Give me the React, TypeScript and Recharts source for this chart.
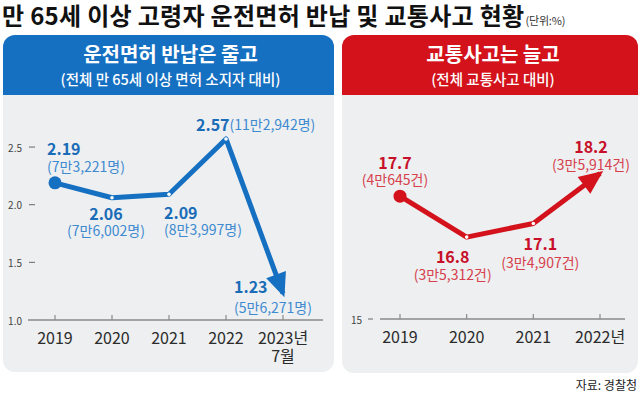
import React from 'react';
import { LineChart, Line, XAxis, YAxis } from 'recharts';

// ---- data ----
const returnYears = ['2019', '2020', '2021', '2022', '2023년\n7월'];
const returnRates = [2.19, 2.06, 2.09, 2.57, 1.23];
const returnCounts = ['7만3,221명', '7만6,002명', '8만3,997명', '11만2,942명', '5만6,271명'];
const returnTicks = [1.0, 1.5, 2.0, 2.5];

const accidentYears = ['2019', '2020', '2021', '2022년'];
const accidentShares = [17.7, 16.8, 17.1, 18.2];
const accidentCounts = ['4만645건', '3만5,312건', '3만4,907건', '3만5,914건'];
const accidentTicks = [15];

const title = '만 65세 이상 고령자 운전면허 반납 및 교통사고 현황';
const unit = '(단위:%)';
const leftHead = '운전면허 반납은 줄고';
const leftSub = '(전체 만 65세 이상 면허 소지자 대비)';
const rightHead = '교통사고는 늘고';
const rightSub = '(전체 교통사고 대비)';
const source = '자료: 경찰청';

const returnData = returnYears.map((y, i) => ({ year: y, value: returnRates[i], count: returnCounts[i] }));
const accidentData = accidentYears.map((y, i) => ({ year: y, value: accidentShares[i], count: accidentCounts[i] }));

// ---- styles / placement ----
const FONT = '"Noto Sans CJK KR", "Noto Sans", sans-serif';
const BLUE = '#1670c2';
const BLUE_DARK = '#1a6cb8';
const BLUE_LIGHT = '#3d8ad0';
const RED = '#d3121c';
const RED_DARK = '#c8102a';
const RED_LIGHT = '#d6404c';
const PANEL = '#edeff0';

type Place = { dx: number; vdy: number; sdy: number; anchor: 'start' | 'middle' | 'end'; inline?: boolean };
const returnPlace: Place[] = [
  { dx: -8, vdy: -35, sdy: -17, anchor: 'start' },
  { dx: -6, vdy: 15, sdy: 32, anchor: 'middle' },
  { dx: -5, vdy: 18, sdy: 35, anchor: 'start' },
  { dx: -30, vdy: -15, sdy: -15, anchor: 'start', inline: true },
  { dx: -49, vdy: -7, sdy: 14, anchor: 'start' },
];
const accidentPlace: Place[] = [
  { dx: -5, vdy: -34, sdy: -17, anchor: 'middle' },
  { dx: -14, vdy: 19, sdy: 37, anchor: 'middle' },
  { dx: 7, vdy: 20, sdy: 39, anchor: 'middle' },
  { dx: -9, vdy: -27, sdy: -9, anchor: 'middle' },
];

function makeDot(color: string, n: number) {
  const store: { cx: number; cy: number }[] = [];
  return (props: any) => {
    const { cx, cy, index } = props;
    store[index] = { cx, cy };
    if (index === 0) {
      return <circle key={`d${index}`} cx={cx} cy={cy} r={6.5} fill={color} />;
    }
    if (index === n - 1 && store[index - 1]) {
      const p = store[index - 1];
      const vx = cx - p.cx;
      const vy = cy - p.cy;
      const len = Math.sqrt(vx * vx + vy * vy) || 1;
      const ux = vx / len;
      const uy = vy / len;
      const tipX = cx + ux * 4;
      const tipY = cy + uy * 4;
      const bx = tipX - ux * 24;
      const by = tipY - uy * 24;
      const hw = 10.5;
      const pts = `${tipX},${tipY} ${bx - uy * hw},${by + ux * hw} ${bx + uy * hw},${by - ux * hw}`;
      return <polygon key={`d${index}`} points={pts} fill={color} />;
    }
    return <circle key={`d${index}`} cx={cx} cy={cy} r={1.8} fill="#ffffff" />;
  };
}

function makeLabel(place: Place[], data: { count: string }[], dark: string, light: string) {
  return (props: any) => {
    const { x, y, index, value } = props;
    const p = place[index];
    const cx = x + p.dx;
    if (p.inline) {
      return (
        <text key={`l${index}`} x={cx} y={y + p.vdy} textAnchor={p.anchor} dominantBaseline="central" fontFamily={FONT}>
          <tspan fontSize={16} fontWeight={700} fill={dark}>{value.toFixed(2)}</tspan>
          <tspan fontSize={14} fill={light}>({data[index].count})</tspan>
        </text>
      );
    }
    const digits = String(value).split('.')[1]?.length ?? 0;
    return (
      <g key={`l${index}`}>
        <text x={cx} y={y + p.vdy} textAnchor={p.anchor} dominantBaseline="central" fontFamily={FONT} fontSize={16} fontWeight={700} fill={dark}>
          {value.toFixed(digits)}
        </text>
        <text x={cx} y={y + p.sdy} textAnchor={p.anchor} dominantBaseline="central" fontFamily={FONT} fontSize={14} fill={light}>
          ({data[index].count})
        </text>
      </g>
    );
  };
}

const XTick = (props: any) => {
  const { x, y, payload } = props;
  const lines = String(payload.value).split('\n');
  return (
    <g>
      <line x1={x} x2={x} y1={y} y2={y - 5} stroke="#8a8a8a" strokeWidth={1.2} />
      {lines.map((l, i) => (
        <text key={i} x={x} y={y + 17 + i * 18} textAnchor="middle" dominantBaseline="central" fontFamily={FONT} fontSize={16} fill="#2b2b2b">
          {l}
        </text>
      ))}
    </g>
  );
};

function makeYTick(textOff: number, dashFrom: number, dashTo: number, digits: number, dashFirst: boolean) {
  return (props: any) => {
    const { x, y, payload, index } = props;
    const showDash = dashFirst || index !== 0;
    return (
      <g>
        <text x={x + textOff} y={y} textAnchor="end" dominantBaseline="central" fontFamily={FONT} fontSize={10} fill="#444">
          {Number(payload.value).toFixed(digits)}
        </text>
        {showDash && <line x1={x + dashFrom} x2={x + dashTo} y1={y} y2={y} stroke="#666" strokeWidth={1} />}
      </g>
    );
  };
}

export default function App() {
  return (
    <div style={{ position: 'absolute', left: 0, top: 0, width: 640, height: 394, background: '#ffffff', fontFamily: FONT, overflow: 'hidden' }}>
      {/* title */}
      <div style={{ position: 'absolute', left: 2, top: 0, whiteSpace: 'nowrap', color: '#111', lineHeight: '30px', height: 30 }}>
        <span style={{ fontSize: 24, fontWeight: 700, letterSpacing: 0.3 }}>{title}</span>
        <span style={{ fontSize: 11, color: '#333', marginLeft: 1, letterSpacing: -0.2 }}>{unit}</span>
      </div>

      {/* left panel */}
      <div style={{ position: 'absolute', left: 3, top: 35, width: 331, height: 337, background: PANEL, borderRadius: 12, overflow: 'hidden' }}>
        <div style={{ height: 60, background: BLUE, color: '#fff', textAlign: 'center' }}>
          <div style={{ fontSize: 20, fontWeight: 700, lineHeight: '24px', paddingTop: 7, paddingLeft: 4 }}>{leftHead}</div>
          <div style={{ fontSize: 14.5, fontWeight: 500, lineHeight: '18px', paddingTop: 4, paddingLeft: 4 }}>{leftSub}</div>
        </div>
      </div>

      {/* right panel */}
      <div style={{ position: 'absolute', left: 342, top: 35, width: 296, height: 338, background: PANEL, borderRadius: 12, overflow: 'hidden' }}>
        <div style={{ height: 60, background: RED, color: '#fff', textAlign: 'center' }}>
          <div style={{ fontSize: 20, fontWeight: 700, lineHeight: '24px', paddingTop: 7, paddingLeft: 6 }}>{rightHead}</div>
          <div style={{ fontSize: 14.5, fontWeight: 500, lineHeight: '18px', paddingTop: 4, paddingLeft: 6 }}>{rightSub}</div>
        </div>
      </div>

      {/* source */}
      <div style={{ position: 'absolute', right: 3, top: 377, fontSize: 12, color: '#222', lineHeight: '16px' }}>{source}</div>

      {/* left chart */}
      <div style={{ position: 'absolute', left: 0, top: 0 }}>
        <LineChart width={640} height={394} data={returnData} margin={{ top: 124, right: 317, bottom: 0, left: 0 }}>
          <XAxis
            dataKey="year"
            height={74}
            padding={{ left: 27, right: 40 }}
            axisLine={{ stroke: '#8a8a8a', strokeWidth: 1.5 }}
            tickLine={false}
            tickSize={0}
            tickMargin={0}
            tick={<XTick />}
            interval={0}
          />
          <YAxis
            width={28}
            domain={[1.0, 2.7]}
            ticks={returnTicks}
            axisLine={false}
            tickLine={false}
            tickSize={0}
            tickMargin={0}
            tick={makeYTick(-6, 1, 7, 1, false)}
            interval={0}
          />
          <Line
            type="linear"
            dataKey="value"
            stroke={BLUE}
            strokeWidth={5}
            strokeLinejoin="round"
            isAnimationActive={false}
            dot={makeDot(BLUE, returnData.length)}
            activeDot={false}
            label={makeLabel(returnPlace, returnData, BLUE_DARK, BLUE_LIGHT)}
          />
        </LineChart>
      </div>

      {/* right chart */}
      <div style={{ position: 'absolute', left: 0, top: 0 }}>
        <LineChart width={640} height={394} data={accidentData} margin={{ top: 137, right: 15, bottom: 0, left: 352 }}>
          <XAxis
            dataKey="year"
            height={75}
            padding={{ left: 20, right: 25 }}
            axisLine={{ stroke: '#8a8a8a', strokeWidth: 1.5 }}
            tickLine={false}
            tickSize={0}
            tickMargin={0}
            tick={<XTick />}
            interval={0}
          />
          <YAxis
            width={28}
            domain={[15, 19]}
            ticks={accidentTicks}
            axisLine={false}
            tickLine={false}
            tickSize={0}
            tickMargin={0}
            tick={makeYTick(-18, -12, -7, 0, true)}
            interval={0}
          />
          <Line
            type="linear"
            dataKey="value"
            stroke={RED}
            strokeWidth={5}
            strokeLinejoin="round"
            isAnimationActive={false}
            dot={makeDot(RED, accidentData.length)}
            activeDot={false}
            label={makeLabel(accidentPlace, accidentData, RED_DARK, RED_LIGHT)}
          />
        </LineChart>
      </div>
    </div>
  );
}
